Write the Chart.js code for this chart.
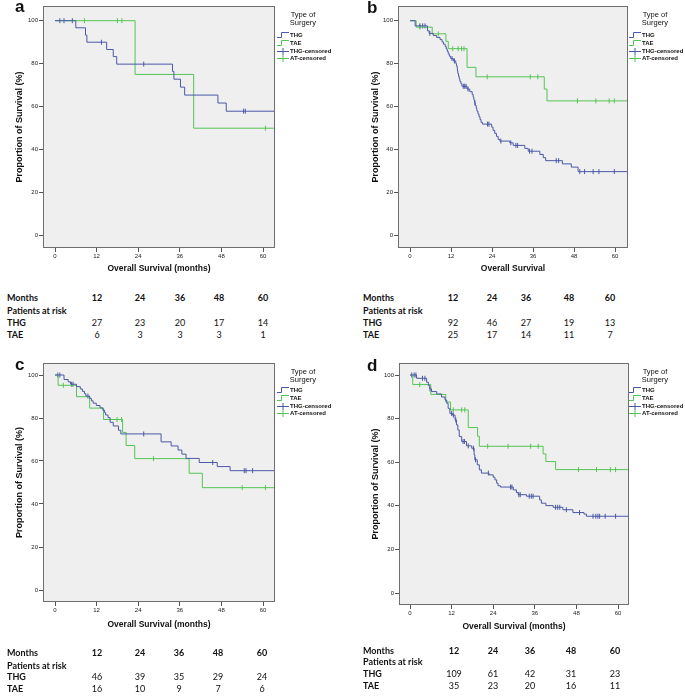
<!DOCTYPE html>
<html>
<head>
<meta charset="utf-8">
<script src="https://cdn.jsdelivr.net/npm/chart.js@4.4.1/dist/chart.umd.min.js"></script>
<style>
body{margin:0;background:#fff;}
#page{position:relative;width:685px;height:697px;overflow:hidden;font-family:"Liberation Sans",Arial,sans-serif;color:#111;}
#page canvas{position:absolute;}
.letter{position:absolute;font-weight:bold;font-size:17px;line-height:17px;}
.legend{position:absolute;width:62px;}
.legend .ttl{position:absolute;left:0;width:52px;text-align:center;font-size:7.5px;line-height:8px;}
.legend .item{position:absolute;left:0;height:8px;line-height:8px;font-size:6px;font-weight:bold;white-space:nowrap;}
.legend svg{vertical-align:top;margin-right:1px;}
.tb{position:absolute;font-family:Lato,"Open Sans",sans-serif;font-size:9px;line-height:10px;white-space:nowrap;}
.tb.b{font-weight:bold;}
.tb.n{width:30px;text-align:center;}
</style>
</head>
<body>
<div id="page">
<canvas id="chartA"></canvas>
<canvas id="chartB"></canvas>
<canvas id="chartC"></canvas>
<canvas id="chartD"></canvas>
</div>
<script>
var BLUE = '#4b58a8';
var GREEN = '#55c455';

var months = [12, 24, 36, 48, 60];
var xTicks = [0, 12, 24, 36, 48, 60];
var yTicks = [0, 20, 40, 60, 80, 100];

// survival steps [month, %] and censored marks
var a_thg = [[0,100],[6.0,96.7],[8.8,93.3],[9.2,90.0],[14.9,86.6],[16.8,83.3],[17.8,79.8],[33.9,76.4],[34.3,72.8],[36.2,69.1],[37.4,65.4],[47.0,61.7],[49.4,57.9],[66,57.9]];
var a_thg_cens = [[1.4,100],[2.6,100],[5.0,100],[13.4,90.0],[25.6,79.8],[54.4,57.9],[54.9,57.9]];
var a_tae = [[0,100],[23.1,75],[40.0,50],[66,50]];
var a_tae_cens = [[8.5,100],[18.0,100],[19.3,100],[60.7,50]];

var b_thg = [[0,100],[1.5,97.6],[5.1,95.3],[5.6,94.1],[6.8,93.1],[7.8,92.2],[8.8,91.2],[9.4,90.1],[9.8,89.1],[10.3,88.0],[10.6,86.9],[10.9,85.7],[11.2,84.6],[11.5,83.5],[11.9,82.4],[12.7,81.3],[13.4,80.1],[13.6,79.0],[13.8,77.8],[13.9,76.6],[14.0,75.4],[14.2,74.2],[14.4,73.0],[14.6,71.8],[14.9,70.7],[15.2,69.5],[16.7,68.2],[17.5,67.0],[18.2,65.7],[18.5,64.4],[18.7,63.1],[18.9,61.8],[19.1,60.5],[19.4,59.2],[19.6,57.9],[19.9,56.6],[20.2,55.3],[20.5,54.0],[20.8,52.7],[21.2,51.9],[23.9,50.5],[24.3,49.0],[24.8,47.6],[25.3,46.2],[25.8,44.8],[26.3,44.0],[29.2,43.2],[30.2,42.0],[33.6,40.6],[34.6,39.3],[38.0,37.8],[39.0,36.3],[39.7,34.9],[44.6,33.4],[47.2,31.9],[49.2,29.8],[66,29.8]];
var b_thg_cens = [[2.9,97.6],[3.7,97.6],[4.4,97.6],[5.8,94.1],[12.3,82.4],[13.0,81.3],[15.6,69.5],[16.0,69.5],[16.4,69.5],[17.0,68.2],[19.0,61.8],[22.7,51.9],[23.1,51.9],[26.6,44.0],[29.5,43.2],[31.0,42.0],[31.5,42.0],[35.0,39.3],[35.7,39.3],[42.8,34.9],[43.5,34.9],[49.7,29.8],[51.1,29.8],[53.6,29.8],[55.3,29.8],[59.8,29.8]];
var b_tae = [[0,100],[1.8,97.0],[6.5,93.9],[10.5,90.4],[11.2,87.0],[16.7,78.3],[19.3,73.9],[39.3,68.2],[40.1,62.7],[66,62.7]];
var b_tae_cens = [[2.9,97.0],[8.3,93.9],[12.5,87.0],[14.1,87.0],[15.1,87.0],[15.8,87.0],[22.6,73.9],[35.2,73.9],[37.4,73.9],[49.0,62.7],[54.4,62.7],[58.3,62.7],[59.8,62.7]];

var c_thg = [[0,100],[2.6,97.9],[3.8,96.8],[4.5,95.7],[6.2,94.6],[7.3,93.5],[7.9,92.4],[8.5,91.3],[8.9,90.2],[10.0,89.1],[10.5,88.0],[11.0,86.9],[11.9,85.8],[13.0,84.7],[13.8,83.6],[14.3,82.5],[14.6,81.4],[15.3,80.2],[15.9,78.0],[16.8,76.3],[18.3,74.3],[19.0,72.6],[30.6,68.9],[33.5,67.0],[35.5,65.1],[36.6,63.2],[37.8,61.2],[41.6,59.3],[46.8,57.4],[50.5,55.5],[66,55.5]];
var c_thg_cens = [[0.8,100],[1.4,100],[4.8,95.7],[5.2,95.7],[9.5,90.2],[25.6,72.6],[45.5,59.3],[54.6,55.5],[55.1,55.5],[57.0,55.5]];
var c_tae = [[0,100],[0.9,95.2],[6.2,89.9],[10.0,84.6],[14.0,79.3],[19.5,73.3],[20.5,67.2],[23.0,61.1],[38.7,54.3],[42.5,47.6],[66,47.6]];
var c_tae_cens = [[2.4,95.2],[17.9,79.3],[19.2,79.3],[28.4,61.1],[54.0,47.6],[60.7,47.6]];

var d_thg = [[0,100],[1.9,98.5],[4.8,96.7],[5.3,95.1],[5.7,93.6],[6.2,92.4],[7.7,91.3],[9.1,89.9],[10.1,88.5],[10.6,87.0],[11.0,84.7],[11.5,82.4],[12.3,81.6],[13.0,79.4],[13.4,77.1],[13.8,74.8],[14.2,71.8],[14.9,69.5],[16.3,67.5],[17.8,66.4],[18.5,63.4],[18.7,61.1],[19.4,58.8],[20.0,56.5],[20.6,55.0],[22.8,54.2],[24.0,53.1],[24.5,51.9],[25.0,50.4],[25.4,49.2],[26.1,48.6],[29.8,47.3],[30.7,46.1],[31.2,45.1],[33.6,44.4],[37.4,42.7],[37.9,41.2],[39.2,40.1],[41.3,39.3],[44.1,38.2],[47.0,36.9],[50.2,36.2],[50.9,35.2],[66,35.2]];
var d_thg_cens = [[0.5,100],[1.2,100],[1.7,100],[3.6,98.5],[4.3,98.5],[5.8,93.6],[12.0,82.4],[12.5,81.6],[13.2,79.4],[15.3,69.5],[15.7,69.5],[16.8,67.5],[18.3,66.4],[18.9,61.1],[22.6,55.0],[29.0,48.6],[29.4,48.6],[31.4,45.1],[31.8,45.1],[34.4,44.4],[35.0,44.4],[35.5,44.4],[42.0,39.3],[42.6,39.3],[43.2,39.3],[45.1,38.2],[48.9,36.9],[52.8,35.2],[53.6,35.2],[54.2,35.2],[54.7,35.2],[56.3,35.2],[59.3,35.2]];
var d_tae = [[0,100],[0.8,95.6],[6.0,91.1],[10.3,87.6],[11.7,84.0],[16.8,75.9],[19.5,71.9],[20.0,67.3],[38.4,63.8],[39.2,60.3],[42.0,56.6],[66,56.6]];
var d_tae_cens = [[2.8,95.6],[12.5,84.0],[14.9,84.0],[15.8,84.0],[22.4,67.3],[28.3,67.3],[34.8,67.3],[37.0,67.3],[48.6,56.6],[53.8,56.6],[57.8,56.6],[59.3,56.6]];

// patients at risk
var a_risk_thg = [27, 23, 20, 17, 14];
var a_risk_tae = [6, 3, 3, 3, 1];
var b_risk_thg = [92, 46, 27, 19, 13];
var b_risk_tae = [25, 17, 14, 11, 7];
var c_risk_thg = [46, 39, 35, 29, 24];
var c_risk_tae = [16, 10, 9, 7, 6];
var d_risk_thg = [109, 61, 42, 31, 23];
var d_risk_tae = [35, 23, 20, 16, 11];

var legendLabels = ['THG', 'TAE', 'THG-censored', 'AT-censored'];

var boxPlugin = {
    id: 'plotBox',
    beforeDatasetsDraw: function(chart){
        var a = chart.chartArea, c = chart.ctx;
        c.save();
        c.fillStyle = '#efefef';
        c.fillRect(a.left, a.top, a.right - a.left, a.bottom - a.top);
        c.restore();
    },
    afterDraw: function(chart){
        var a = chart.chartArea, c = chart.ctx;
        c.save();
        c.strokeStyle = '#6e6e6e';
        c.lineWidth = 1;
        c.strokeRect(Math.round(a.left) + 0.5, Math.round(a.top) + 0.5, Math.round(a.right - a.left) - 1, Math.round(a.bottom - a.top) - 1);
        c.restore();
    }
};

function pts(arr){
    return arr.map(function(p){ return {x: p[0], y: p[1]}; });
}

function makePanel(p){
    var el = document.getElementById(p.id);
    el.width = p.cell[2];
    el.height = p.cell[3];
    el.style.left = p.cell[0] + 'px';
    el.style.top = p.cell[1] + 'px';

    var pxMonth = (p.xpx[1] - p.xpx[0]) / 60;
    var xmin = -(p.xpx[0] - p.box[0]) / pxMonth;
    var xmax = 60 + (p.box[1] - p.xpx[1]) / pxMonth;
    var pxPct = (p.ypx[1] - p.ypx[0]) / 100;
    var ymax = 100 + (p.ypx[0] - p.box[2]) / pxPct;
    var ymin = -(p.box[3] - p.ypx[1]) / pxPct;

    var yOff = 14 + 9 * 1.2 / 2;
    var xOff = 15 + 8.5 * 1.2 / 2;
    var scaleLeft = p.titleX - yOff;
    var scaleBottom = p.titleY + xOff;
    var tickFont = {family: '"Liberation Sans", Arial, sans-serif', size: 6};

    new Chart(el, {
        type: 'scatter',
        data: {
            datasets: [
                {data: pts(p.thg), showLine: true, stepped: true, borderColor: BLUE, borderWidth: 1, pointRadius: 0},
                {data: pts(p.tae), showLine: true, stepped: true, borderColor: GREEN, borderWidth: 1, pointRadius: 0},
                {data: pts(p.thgC), showLine: false, pointStyle: 'line', rotation: 90, pointRadius: 2.5, borderColor: BLUE, borderWidth: 1},
                {data: pts(p.taeC), showLine: false, pointStyle: 'line', rotation: 90, pointRadius: 2.5, borderColor: GREEN, borderWidth: 1}
            ]
        },
        options: {
            responsive: false,
            animation: false,
            events: [],
            layout: {padding: {
                left: scaleLeft - p.cell[0],
                top: p.box[2] - p.cell[1],
                right: p.cell[0] + p.cell[2] - p.box[1],
                bottom: p.cell[1] + p.cell[3] - scaleBottom
            }},
            plugins: {legend: {display: false}, tooltip: {enabled: false}},
            scales: {
                x: {
                    type: 'linear', min: xmin, max: xmax,
                    afterBuildTicks: function(s){ s.ticks = xTicks.map(function(v){ return {value: v}; }); },
                    afterFit: function(s){ s.height = scaleBottom - p.box[3]; },
                    grid: {drawOnChartArea: false, tickLength: 4, color: '#555'},
                    border: {display: false},
                    ticks: {font: tickFont, color: '#222', padding: 1, maxRotation: 0, autoSkip: false},
                    title: {display: true, text: p.xLabel, color: '#111', padding: {top: 0, bottom: 15},
                        font: {family: '"Liberation Sans", Arial, sans-serif', size: 8.5, weight: 'bold'}}
                },
                y: {
                    type: 'linear', min: ymin, max: ymax,
                    afterBuildTicks: function(s){ s.ticks = yTicks.map(function(v){ return {value: v}; }); },
                    afterFit: function(s){ s.width = p.box[0] - scaleLeft; },
                    grid: {drawOnChartArea: false, tickLength: 4, color: '#555'},
                    border: {display: false},
                    ticks: {font: tickFont, color: '#222', padding: 1, autoSkip: false},
                    title: {display: true, text: 'Proportion of Survival (%)', color: '#111', padding: {top: 14, bottom: 0},
                        font: {family: '"Liberation Sans", Arial, sans-serif', size: 9, weight: 'bold'}}
                }
            }
        },
        plugins: [boxPlugin]
    });
}

function addDiv(cls, left, top, html){
    var d = document.createElement('div');
    d.className = cls;
    d.style.left = left + 'px';
    d.style.top = top + 'px';
    d.innerHTML = html;
    document.getElementById('page').appendChild(d);
    return d;
}

function makeLegend(left, titleTop, itemTop){
    var box = addDiv('legend', left, titleTop, '');
    var t = document.createElement('div');
    t.className = 'ttl';
    t.style.top = '0px';
    t.innerHTML = 'Type of<br>Surgery';
    box.appendChild(t);
    var colors = [BLUE, GREEN, BLUE, GREEN];
    for(let i=0; i<legendLabels.length; i++){
        var path = i < 2 ? 'M0 6.5H4.5V1.5H12' : 'M0 4.5H12M6 1V8';
        var it = document.createElement('div');
        it.className = 'item';
        it.style.top = (itemTop - titleTop + i * 7.8) + 'px';
        it.innerHTML = '<svg width="12" height="8"><path d="' + path + '" stroke="' + colors[i] + '" fill="none" stroke-width="1"/></svg>' + legendLabels[i];
        box.appendChild(it);
    }
}

function makeTable(left, cols, rows, thg, tae){
    var labels = ['Months', 'Patients at risk', 'THG', 'TAE'];
    for(let r=0; r<4; r++){
        addDiv('tb b', left, rows[r] - 5, labels[r]);
    }
    for(let i=0; i<months.length; i++){
        addDiv('tb b n', cols[i] - 15, rows[0] - 5, months[i]);
        addDiv('tb n', cols[i] - 15, rows[2] - 5, thg[i]);
        addDiv('tb n', cols[i] - 15, rows[3] - 5, tae[i]);
    }
}

makePanel({id: 'chartA', cell: [0, 0, 340, 290], box: [43, 275, 6, 248], xpx: [55, 263], ypx: [20.7, 235.7],
    titleX: 20, titleY: 269, xLabel: 'Overall Survival (months)', thg: a_thg, thgC: a_thg_cens, tae: a_tae, taeC: a_tae_cens});
makePanel({id: 'chartB', cell: [340, 0, 345, 290], box: [398, 628, 6, 248], xpx: [410, 615], ypx: [20.7, 235.7],
    titleX: 376, titleY: 269, xLabel: 'Overall Survival', thg: b_thg, thgC: b_thg_cens, tae: b_tae, taeC: b_tae_cens});
makePanel({id: 'chartC', cell: [0, 340, 340, 310], box: [43, 275, 363, 602], xpx: [55, 263], ypx: [375, 590],
    titleX: 20, titleY: 625, xLabel: 'Overall Survival (months)', thg: c_thg, thgC: c_thg_cens, tae: c_tae, taeC: c_tae_cens});
makePanel({id: 'chartD', cell: [340, 340, 345, 310], box: [399, 629, 363, 605], xpx: [410, 618], ypx: [375, 593],
    titleX: 376, titleY: 627, xLabel: 'Overall Survival (months)', thg: d_thg, thgC: d_thg_cens, tae: d_tae, taeC: d_tae_cens});

makeLegend(277, 11, 31);
makeLegend(629, 11, 31);
makeLegend(277, 368, 386);
makeLegend(629, 368, 386);

makeTable(7, [97, 140, 180, 219, 263], [298, 311, 323, 335], a_risk_thg, a_risk_tae);
makeTable(363, [453, 492, 526, 569, 610], [298, 311, 323, 335], b_risk_thg, b_risk_tae);
makeTable(7, [97, 140, 179, 218, 262], [653, 666, 677, 689], c_risk_thg, c_risk_tae);
makeTable(363, [454, 493, 530, 571, 615], [651, 662, 674, 686], d_risk_thg, d_risk_tae);

addDiv('letter', 15, -2.4, 'a');
addDiv('letter', 367, -1.4, 'b');
addDiv('letter', 15, 356.3, 'c');
addDiv('letter', 367, 356.6, 'd');
</script>
</body>
</html>
